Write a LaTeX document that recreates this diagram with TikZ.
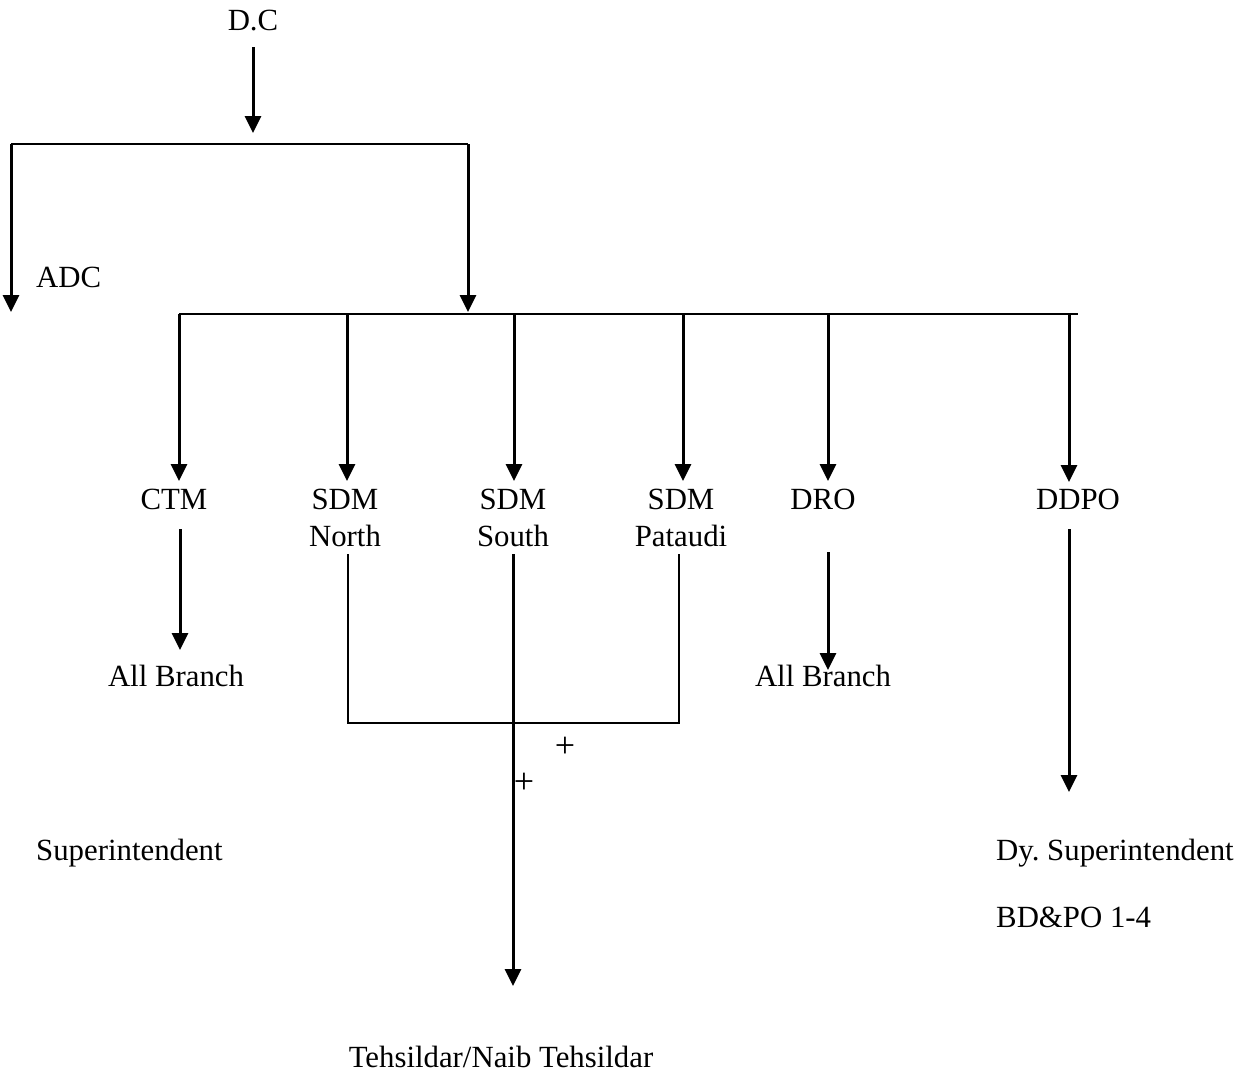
\documentclass[tikz,border=0pt]{standalone}
\usepackage{fontspec}
\setmainfont{Liberation Serif}
\usetikzlibrary{arrows.meta}
\frenchspacing
\begin{document}
\begin{tikzpicture}[x=1bp,y=-1bp,
  lbl/.style={inner sep=0pt,font=\fontsize{30.8bp}{37bp}\selectfont,anchor=base},
  lblw/.style={lbl,anchor=base west},
  plus/.style={inner sep=0pt,font=\fontsize{36bp}{40bp}\selectfont},
  thickln/.style={line width=3bp},
  hln/.style={line width=2.3bp},
  thinln/.style={line width=1.8bp},
  arr/.style={thickln,-{Triangle[width=16bp,length=17bp]}}]
\useasboundingbox (0,0) rectangle (1249,1078);
% labels
\node[lbl] (dc) at (253,30) {D.C};
\node[lblw] (adc) at (36,287) {ADC};
\node[lbl] (ctm) at (174,509) {CTM};
\node[lbl] (sdmn) at (345,509) {\begin{tabular}[t]{@{}c@{}}SDM\\North\end{tabular}};
\node[lbl] (sdms) at (513,509) {\begin{tabular}[t]{@{}c@{}}SDM\\South\end{tabular}};
\node[lbl] (sdmp) at (681,509) {\begin{tabular}[t]{@{}c@{}}SDM\\Pataudi\end{tabular}};
\node[lbl] (dro) at (823,509) {DRO};
\node[lbl] (ddpo) at (1078,509) {DDPO};
\node[lbl] (ab1) at (176,686) {All Branch};
\node[lbl] (ab2) at (823,686) {All Branch};
\node[lblw] (sup) at (36,860) {Superintendent};
\node[lblw] (dys) at (996,860) {Dy.\ Superintendent};
\node[lblw] (bdpo) at (996,927) {BD\&PO 1-4};
\node[lbl] (teh) at (501,1067) {Tehsildar/Naib Tehsildar};
\node[plus] (p1) at (565,747) {+};
\node[plus] (p2) at (524,783) {+};
% coordinates
\coordinate (dcS) at (253,47);
\coordinate (b1) at (253,133);
\coordinate (h1L) at (11,144);
\coordinate (h1R) at (468,144);
\coordinate (adcT) at (11,312);
\coordinate (midT) at (468,312);
\coordinate (h2L) at (179,314);
\coordinate (h2R) at (1078,314);
\coordinate (ddpoC) at (1069,314);
% top
\draw[arr] (dcS) -- (b1);
\draw[hln] (h1L) -- (h1R);
\draw[arr] (h1L) -- (adcT);
\draw[arr] (h1R) -- (midT);
\draw[hln] (h2L) -- (h2R);
\draw[arr] (h2L) -- (179,481);
\draw[arr] (347,314) -- (347,481);
\draw[arr] (514,314) -- (514,481);
\draw[arr] (683,314) -- (683,481);
\draw[arr] (828,314) -- (828,481);
\draw[arr] (ddpoC) -- (1069,482);
% lower
\draw[arr] (180,529) -- (180,650);
\draw[arr] (828,552) -- (828,670);
\draw[arr] (1069,529) -- (1069,792);
\draw[thinln] (348,554) -- (348,723) -- (679,723) -- (679,554);
\draw[arr] (513,554) -- (513,986);
\end{tikzpicture}
\end{document}
